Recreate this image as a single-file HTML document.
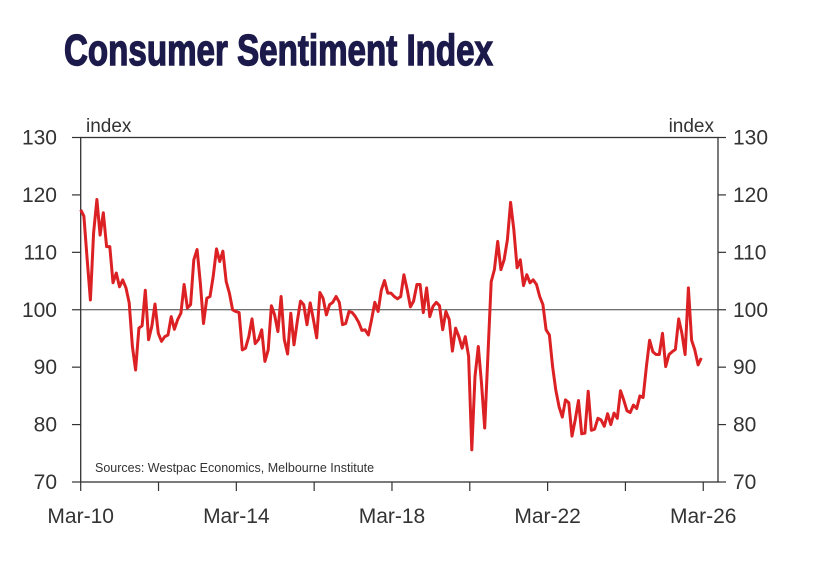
<!DOCTYPE html>
<html><head><meta charset="utf-8">
<style>
html,body{margin:0;padding:0;background:#fff;}
svg{display:block;}
text{font-family:"Liberation Sans",sans-serif;}
</style></head>
<body>
<svg id="chart" width="814" height="584" viewBox="0 0 814 584" xmlns="http://www.w3.org/2000/svg">
<text x="64" y="65" font-family="Liberation Sans Narrow, Liberation Sans, sans-serif" font-weight="bold" font-size="44" fill="#1c1a4a" stroke="#1c1a4a" stroke-width="1.4" textLength="429" lengthAdjust="spacingAndGlyphs">Consumer Sentiment Index</text>
<g id="axes"></g>
<g id="series"></g>
<text x="95" y="472" font-size="12.5" fill="#333">Sources: Westpac Economics, Melbourne Institute</text>
<text x="86" y="132" font-size="19" fill="#333">index</text>
<text x="714" y="132" font-size="19" fill="#333" text-anchor="end">index</text>
</svg>
<script>
const yTicks=[70,80,90,100,110,120,130];
const xTickLabels=["Mar-10","Mar-14","Mar-18","Mar-22","Mar-26"];
const xTickYears=[2010,2012,2014,2016,2018,2020,2022,2024,2026];
const values=[117.4,116.3,108.7,101.7,113.4,119.2,113,116.9,111,111,104.7,106.4,104,105.2,103.8,101.2,93.6,89.5,96.8,97.2,103.4,94.8,97.1,101,95.9,94.5,95.3,95.6,98.8,96.6,98.3,99.4,104.4,100.3,100.9,108.7,110.5,104.7,97.6,102,102.3,105.8,110.6,108.4,110.2,104.9,102.9,100,99.7,99.5,93,93.3,95.3,98.4,94.1,94.8,96.5,91,93,100.7,99.1,96.2,102.3,94.8,92.3,99.4,93.9,98,101.5,100.9,97.4,101.2,98.3,95.1,103,102,99.1,100.9,101.3,102.3,101.3,97.4,97.6,99.7,99.5,98.8,97.8,96.4,96.5,95.6,98.3,101.3,99.7,103.4,105.1,102.9,102.9,102.3,101.9,
102.3,106.1,103.5,100.5,101.5,104.4,104.4,99.5,103.8,98.8,100.6,101.3,100.7,96.5,99.7,98.3,92.8,96.8,95.3,93.3,95.3,91.9,75.6,88.4,93.6,87.2,79.4,92.4,104.9,107,111.9,107,108.7,112.2,118.7,114,107.3,108.7,104.2,106.1,104.7,105.2,104.4,102.3,100.9,96.5,95.6,90.1,86,83.1,81.3,84.3,83.8,78,80.8,84.2,78.4,78.5,85.8,79,79.2,81.1,80.8,79.7,81.9,80,82,81.1,85.9,84.3,82.4,82.1,83.4,82.8,85,84.7,90.1,94.7,92.7,92.2,92.2,95.9,90.1,92.2,92.7,93.1,98.4,95.9,92.2,103.8,94.7,93,90.4,91.6];
const startYear=2010.17, endYear=2026.12;
const X0=80.7, X1=718, PX0=80.7, PX1=701.3;
const yScale=v=>482-(v-70)*(482-137.5)/60;
const yrScale=t=>PX0+(t-startYear)*(PX1-PX0)/(endYear-startYear);
const idxScale=i=>yrScale(startYear+i*(endYear-startYear)/(values.length-1));
const NS="http://www.w3.org/2000/svg";
const axes=document.getElementById('axes');
function mk(tag,attrs,parent){const e=document.createElementNS(NS,tag);for(const k in attrs)e.setAttribute(k,attrs[k]);parent.appendChild(e);return e;}
const frame=mk('rect',{x:X0,y:yScale(130),width:X1-X0,height:yScale(70)-yScale(130),fill:'none',stroke:'#333','stroke-width':1.3},axes);


const ref=mk('line',{x1:X0,x2:X1,y1:yScale(100),y2:yScale(100),stroke:'#444','stroke-width':1.1},axes);


yTicks.forEach(v=>{
  const y=yScale(v);
  const t1=mk('line',{x1:72,x2:X0,y1:y,y2:y,stroke:'#333','stroke-width':1.2},axes);
  
  
  const t2=mk('line',{x1:X1,x2:726,y1:y,y2:y,stroke:'#333','stroke-width':1.2},axes);
  
  
  const l=mk('text',{x:57,y:y+7,'font-size':21,fill:'#333','text-anchor':'end'},axes);
  l.textContent=v;
  
  
  const r=mk('text',{x:733,y:y+7,'font-size':21,fill:'#333'},axes);
  r.textContent=v;
  
  
});
xTickYears.forEach((yr,i)=>{
  const x=yrScale(yr+0.17);
  const t=mk('line',{x1:x,x2:x,y1:482,y2:491,stroke:'#333','stroke-width':1.2},axes);
  
  
  if(i%2===0){
    const l=mk('text',{x:x,y:523,'font-size':21,fill:'#333','text-anchor':'middle'},axes);
    l.textContent=xTickLabels[i/2];
    
    
  }
});
const pts=values.map((v,i)=>idxScale(i).toFixed(1)+','+yScale(v).toFixed(1)).join(' ');
const line=mk('polyline',{points:pts,fill:'none',stroke:'#dc2124','stroke-width':3,'stroke-linejoin':'round'},document.getElementById('series'));


</script>
</body></html>
